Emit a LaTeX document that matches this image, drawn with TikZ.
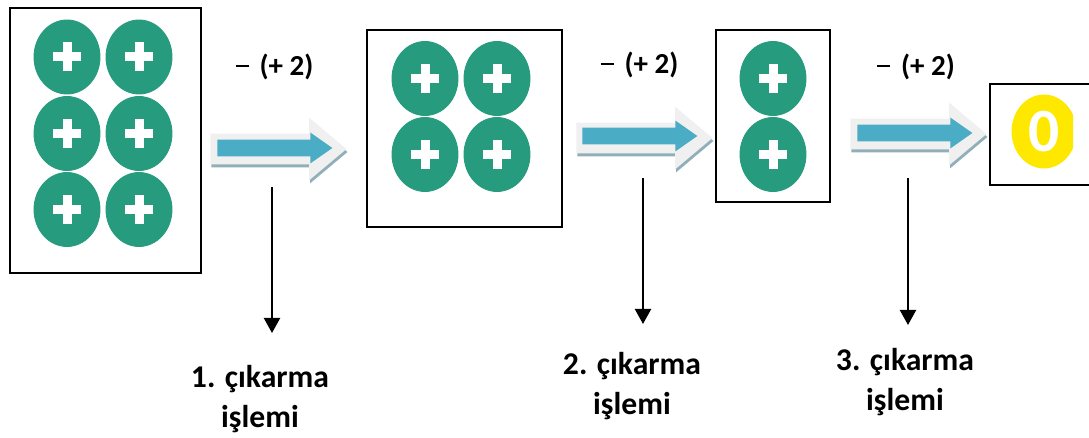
\documentclass[tikz,border=0pt]{standalone}
\usepackage{fontspec}
\setmainfont{Carlito}
\usepackage{tikz-network}
\usetikzlibrary{shapes.geometric,shapes.arrows,shadows,arrows.meta}

\definecolor{chipgreen}{RGB}{38,155,125}
\definecolor{chipyellow}{RGB}{255,232,0}
\definecolor{arrowblue}{RGB}{75,172,198}
\definecolor{arrowgray}{RGB}{240,240,240}
\definecolor{arrowshade}{RGB}{145,175,185}

\newcommand{\zerofont}{\fontsize{35}{35}\selectfont\bfseries}
\newcommand{\minusbar}{\rule[0.17cm]{0.26cm}{0.04cm}\hspace{0.22cm}}

\tikzset{
  panel/.style={draw=black, line width=1.1pt},
  chip/.style={ellipse, minimum width=1.32cm, minimum height=1.48cm,
    path picture={
      \draw[white, line width=0.18cm]
        ([xshift=-0.28cm]path picture bounding box.center) -- ([xshift=0.28cm]path picture bounding box.center)
        ([yshift=-0.29cm]path picture bounding box.center) -- ([yshift=0.29cm]path picture bounding box.center);
    }},
  zerochip/.style={ellipse, draw=chipyellow, minimum width=1.28cm, minimum height=1.46cm},
  bigarrow/.style={single arrow, fill=arrowgray, anchor=tip,
    inner xsep=0pt, inner ysep=0.30cm, minimum height=2.72cm,
    single arrow head extend=0.32cm, single arrow tip angle=80,
    copy shadow={shadow xshift=0.02cm, shadow yshift=-0.06cm, fill=arrowshade, draw=none}},
  innerarrow/.style={single arrow, fill=arrowblue, anchor=tip,
    inner xsep=0pt, inner ysep=0.16cm, minimum height=2.30cm,
    single arrow head extend=0.14cm, single arrow tip angle=70},
  oplabel/.style={font=\fontsize{16.5}{19}\selectfont\bfseries},
  notelabel/.style={align=center, font=\fontsize{18}{22.8}\selectfont\bfseries},
}

\begin{document}
\begin{tikzpicture}

\useasboundingbox (0,0) rectangle (21.78,8.74);
\clip (0,0) rectangle (21.78,8.74);

\SetVertexStyle[LineWidth=0.5, FillColor=chipgreen, LineColor=chipgreen]
\SetEdgeStyle[Color=black]

% boxes
\draw[panel] (0.20,3.28) rectangle (4.02,8.58);
\draw[panel] (7.34,4.20) rectangle (11.24,8.14);
\draw[panel] (14.32,4.70) rectangle (16.60,8.14);
\draw[panel] (19.80,5.04) rectangle (22.00,7.06);

% six positive chips
\Vertex[x=1.34,y=7.60,color=chipgreen,style=chip]{P_1}
\Vertex[x=2.78,y=7.60,color=chipgreen,style=chip]{P_2}
\Vertex[x=1.34,y=6.07,color=chipgreen,style=chip]{P_3}
\Vertex[x=2.78,y=6.07,color=chipgreen,style=chip]{P_4}
\Vertex[x=1.34,y=4.55,color=chipgreen,style=chip]{P_5}
\Vertex[x=2.78,y=4.55,color=chipgreen,style=chip]{P_6}

% four left
\Vertex[x=8.50,y=7.17,color=chipgreen,style=chip]{P_7}
\Vertex[x=9.94,y=7.17,color=chipgreen,style=chip]{P_8}
\Vertex[x=8.50,y=5.65,color=chipgreen,style=chip]{P_9}
\Vertex[x=9.94,y=5.65,color=chipgreen,style=chip]{P_10}

% two left
\Vertex[x=15.46,y=7.17,color=chipgreen,style=chip]{P_11}
\Vertex[x=15.46,y=5.65,color=chipgreen,style=chip]{P_12}

% nothing left
\begin{scope}
\clip (19.80,0) rectangle (21.46,8.74);
\Vertex[x=20.88,y=6.11,color=chipyellow,style=zerochip,label=0,fontcolor=white,fontsize=\zerofont]{Z}
\end{scope}

% block arrows
\node[bigarrow] (A_1) at (6.94,5.76) {};
\node[innerarrow] (B_1) at ([xshift=-0.28cm,yshift=0.02cm]A_1.tip) {};
\node[bigarrow] (A_2) at (14.26,5.98) {};
\node[innerarrow] (B_2) at ([xshift=-0.30cm,yshift=0.04cm]A_2.tip) {};
\node[bigarrow] (A_3) at (19.74,6.06) {};
\node[innerarrow] (B_3) at ([xshift=-0.28cm,yshift=0.02cm]A_3.tip) {};

\node[oplabel] (T_1) at (5.49,7.40) {\minusbar(+ 2)};
\node[oplabel] (T_2) at (12.79,7.44) {\minusbar(+ 2)};
\node[oplabel] (T_3) at (18.32,7.40) {\minusbar(+ 2)};

% pointers to the step names
\Vertex[x=5.44,y=5.30,Pseudo]{S_1}
\Vertex[x=5.44,y=1.78,Pseudo]{E_1}
\Vertex[x=12.86,y=5.48,Pseudo]{S_2}
\Vertex[x=12.86,y=1.96,Pseudo]{E_2}
\Vertex[x=18.16,y=5.48,Pseudo]{S_3}
\Vertex[x=18.16,y=1.94,Pseudo]{E_3}
\Edge[Direct,lw=1.2,style={-{Triangle[length=0.30cm,width=0.32cm]}}](S_1)(E_1)
\Edge[Direct,lw=1.2,style={-{Triangle[length=0.30cm,width=0.32cm]}}](S_2)(E_2)
\Edge[Direct,lw=1.2,style={-{Triangle[length=0.30cm,width=0.32cm]}}](S_3)(E_3)

\node[notelabel] (N_1) at (5.20,0.76) {1. çıkarma\\işlemi};
\node[notelabel] (N_2) at (12.64,1.02) {2. çıkarma\\işlemi};
\node[notelabel] (N_3) at (18.10,1.09) {3. çıkarma\\işlemi};

\end{tikzpicture}
\end{document}
